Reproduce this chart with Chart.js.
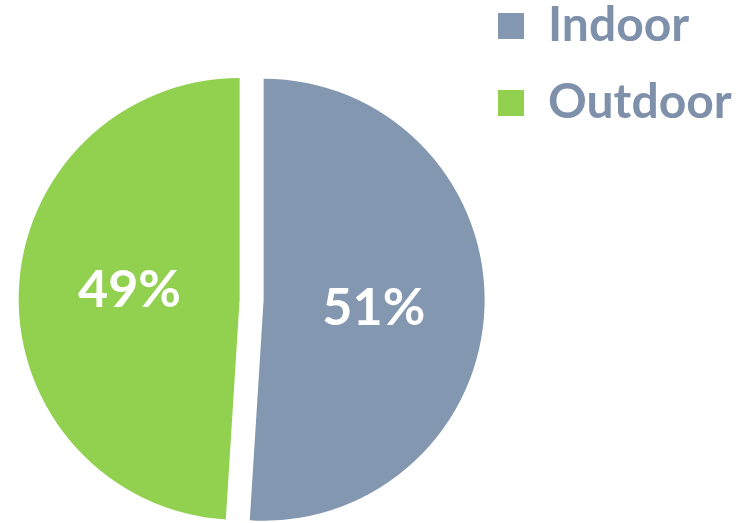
<!DOCTYPE html>
<html>
<head>
<meta charset="utf-8">
<script src="https://cdn.jsdelivr.net/npm/chart.js@4"></script>
<style>
  html, body { margin: 0; padding: 0; background: #fff; }
  #wrap { width: 743px; height: 523px; position: relative; }
</style>
</head>
<body>
<div id="wrap"><canvas id="pieChart"></canvas></div>
<script>
// --- DATA ---
const labels = ['Indoor', 'Outdoor'];
const shares = [51, 49];
const colors = ['#8497B0', '#92D050'];
const explode = [24, 0]; // pulled-out distance of each slice

// Chart.js ignores 'offset' for slices wider than 180deg, so move the arc itself
const explodeSlices = {
  id: 'explodeSlices',
  afterUpdate(chart) {
    const meta = chart.getDatasetMeta(0);
    meta.data.forEach((arc, i) => {
      if (!explode[i]) return;
      const mid = (arc.startAngle + arc.endAngle) / 2;
      arc.x += Math.cos(mid) * explode[i];
      arc.y += Math.sin(mid) * explode[i];
    });
  }
};

// percent labels drawn on top of each slice
const sliceLabels = {
  id: 'sliceLabels',
  afterDatasetsDraw(chart) {
    const ctx = chart.ctx;
    const meta = chart.getDatasetMeta(0);
    ctx.save();
    ctx.fillStyle = '#fff';
    ctx.font = "bold 52px Lato, sans-serif";
    ctx.textAlign = 'center';
    ctx.textBaseline = 'middle';
    meta.data.forEach((arc, i) => {
      const mid = (arc.startAngle + arc.endAngle) / 2 + 0.045;
      const dist = arc.outerRadius * 0.5;
      ctx.fillText(shares[i] + '%', arc.x + Math.cos(mid) * dist, arc.y + Math.sin(mid) * dist);
    });
    ctx.restore();
  }
};

// move the legend block to the top right corner
const legendSpot = {
  id: 'legendSpot',
  afterLayout(chart) {
    const lg = chart.legend;
    if (!lg) return;
    const dx = 469 - lg.left;
    const dy = -27 - lg.top;
    lg.left += dx; lg.right += dx;
    lg.top += dy; lg.bottom += dy;
  }
};

const ctx = document.getElementById('pieChart').getContext('2d');
const pieChart = new Chart(ctx, {
  type: 'pie',
  data: {
    labels: labels,
    datasets: [{
      data: shares,
      backgroundColor: colors,
      borderWidth: 0
    }]
  },
  options: {
    responsive: true,
    maintainAspectRatio: false,
    animation: false,
    radius: 221,
    layout: { padding: { left: 9, top: 75, right: 0, bottom: 0 } },
    plugins: {
      tooltip: { enabled: false },
      legend: {
        position: 'right',
        align: 'start',
        labels: {
          boxWidth: 26,
          boxHeight: 26,
          padding: 29,
          color: '#7F90AA',
          font: { family: "Lato, sans-serif", size: 48, weight: 'bold' }
        }
      }
    }
  },
  plugins: [explodeSlices, sliceLabels, legendSpot]
});
</script>
</body>
</html>
